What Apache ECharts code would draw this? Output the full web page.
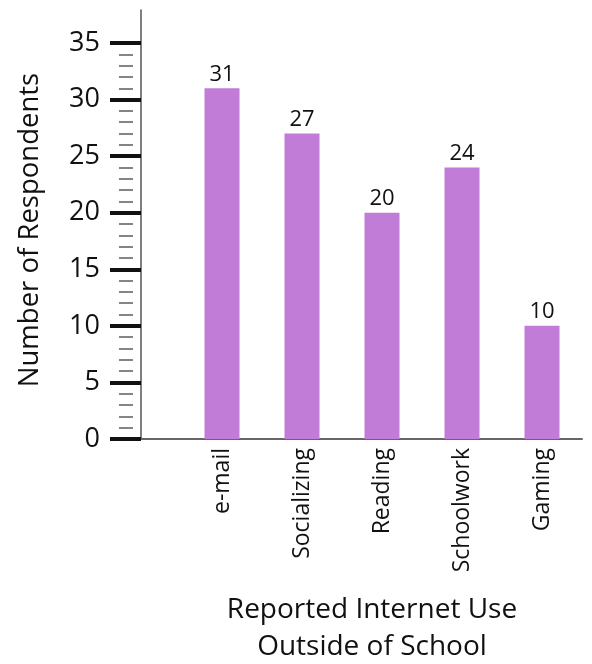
<!DOCTYPE html>
<html>
<head>
<meta charset="utf-8">
<script src="https://cdn.jsdelivr.net/npm/echarts@6/dist/echarts.min.js"></script>
<style>
  html, body { margin: 0; padding: 0; background: #fff; }
  #chart { width: 592px; height: 664px; }
</style>
</head>
<body>
<div id="chart"></div>
<script>
// Survey results: reported internet use outside of school
const categories = ['e-mail', 'Socializing', 'Reading', 'Schoolwork', 'Gaming'];
const respondents = [31, 27, 20, 24, 10];
const yTicks = [0, 5, 10, 15, 20, 25, 30, 35];

const FONT = '"Open Sans", "Noto Sans", sans-serif';
const yMin = yTicks[0];
const yMax = yTicks[yTicks.length - 1];
const yStep = yTicks[1] - yTicks[0];
const yMinorStep = 1;

const chart = echarts.init(document.getElementById('chart'), null, { renderer: 'canvas' });

chart.setOption({
  animation: false,
  backgroundColor: '#ffffff',
  grid: [
    // plotting area for the bars
    { left: 182, right: 10, top: 43, bottom: 225 },
    // frame that carries the long axis lines
    { left: 141, right: 10, top: 10, bottom: 225 }
  ],
  xAxis: [
    {
      gridIndex: 0,
      type: 'category',
      position: 'bottom',
      data: categories,
      axisLine: { show: false },
      axisTick: { show: false },
      axisLabel: {
        rotate: 90,
        margin: 9,
        fontFamily: FONT,
        fontSize: 23,
        color: '#111'
      }
    },
    {
      gridIndex: 1,
      type: 'value',
      position: 'bottom',
      min: 0,
      max: 1,
      axisLine: { show: true, lineStyle: { color: '#666', width: 2 } },
      axisTick: { show: false },
      axisLabel: { show: false },
      splitLine: { show: false }
    }
  ],
  yAxis: [
    {
      // labelled scale with major ticks
      gridIndex: 0,
      type: 'value',
      position: 'left',
      z: 2,
      min: yMin,
      max: yMax,
      interval: yStep,
      offset: 41,
      axisLine: { show: false },
      axisTick: { show: true, length: 31, lineStyle: { color: '#111', width: 4 } },
      axisLabel: {
        margin: 41,
        fontFamily: FONT,
        fontSize: 27,
        color: '#111'
      },
      splitLine: { show: false }
    },
    {
      // fine ticks every unit, set slightly away from the axis line
      // (the heavy major ticks are drawn over them at every fifth unit)
      gridIndex: 0,
      type: 'value',
      position: 'left',
      z: 1,
      min: yMin,
      max: yMax,
      interval: yMinorStep,
      offset: 49,
      axisLine: { show: false },
      axisTick: { show: true, length: 14, lineStyle: { color: '#666', width: 1.6 } },
      axisLabel: { show: false },
      splitLine: { show: false }
    },
    {
      // tall vertical axis line
      gridIndex: 1,
      type: 'value',
      position: 'left',
      min: 0,
      max: 1,
      axisLine: { show: true, lineStyle: { color: '#555', width: 1.5 } },
      axisTick: { show: false },
      axisLabel: { show: false },
      splitLine: { show: false }
    }
  ],
  series: [
    {
      type: 'bar',
      xAxisIndex: 0,
      yAxisIndex: 0,
      data: respondents,
      barWidth: 35,
      itemStyle: { color: '#c07cd6' },
      label: {
        show: true,
        position: 'top',
        distance: 3,
        fontFamily: FONT,
        fontSize: 22,
        color: '#111'
      }
    }
  ],
  graphic: [
    {
      type: 'text',
      x: 30,
      y: 230,
      rotation: Math.PI / 2,
      style: {
        text: 'Number of Respondents',
        fontFamily: FONT,
        fontSize: 27.5,
        fill: '#111',
        align: 'center',
        verticalAlign: 'middle'
      }
    },
    {
      type: 'text',
      x: 372,
      y: 629,
      style: {
        text: 'Reported Internet Use\nOutside of School',
        fontFamily: FONT,
        fontSize: 28,
        lineHeight: 37,
        fill: '#111',
        align: 'center',
        verticalAlign: 'middle'
      }
    }
  ]
});
</script>
</body>
</html>
